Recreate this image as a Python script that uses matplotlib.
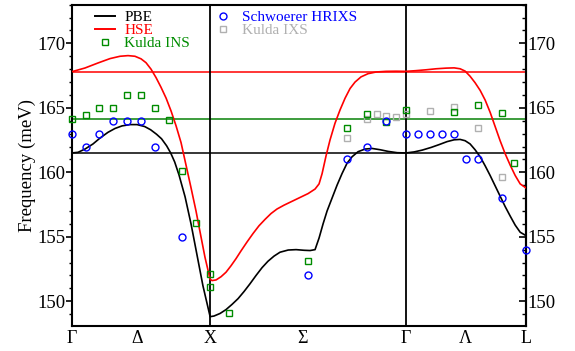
import matplotlib
matplotlib.use("Agg")
import matplotlib.pyplot as plt
from matplotlib.ticker import FixedLocator, MultipleLocator
from matplotlib.lines import Line2D

plt.rcParams["font.family"] = ["Liberation Serif", "DejaVu Serif"]

# high-symmetry points along the fcc path (units of 2*pi/a)
SYM_POS = [0.0, 1.0, 2.414, 3.280]
LABEL_POS = [0.0, 0.47, 1.0, 1.666, 2.414, 2.847, 3.280]
LABELS = ["Γ", "Δ", "X", "Σ", "Γ", "Λ", "L"]
Y_TICKS = [150, 155, 160, 165, 170]

# PBE branch
PBE_Q = [0.000, 0.046, 0.096, 0.154, 0.204, 0.262, 0.313, 0.364, 0.422, 0.472,
         0.527, 0.570, 0.613, 0.649, 0.686, 0.715, 0.744, 0.775, 0.819, 0.862,
         0.905, 0.948, 1.000,
         1.028, 1.072, 1.115, 1.158, 1.202, 1.245, 1.288, 1.332, 1.375, 1.418,
         1.462, 1.505, 1.564, 1.621, 1.679, 1.722, 1.758, 1.787, 1.816, 1.845,
         1.881, 1.917, 1.953, 1.989, 2.025, 2.069, 2.119, 2.170, 2.228, 2.286,
         2.351, 2.414,
         2.474, 2.532, 2.597, 2.655, 2.712, 2.763, 2.806, 2.842, 2.878, 2.914,
         2.951, 2.987, 3.023, 3.059, 3.095, 3.131, 3.168, 3.204, 3.240, 3.280]
PBE_E = [161.5, 161.55, 161.8, 162.2, 162.65, 163.1, 163.4, 163.6, 163.7, 163.7,
         163.55, 163.3, 162.95, 162.6, 162.05, 161.5, 160.8, 159.8, 158.1, 156.0,
         153.6, 151.2, 148.8,
         148.85, 149.05, 149.35, 149.75, 150.2, 150.75, 151.35, 152.0, 152.6, 153.1,
         153.5, 153.8, 153.97, 154.0, 153.95, 153.93, 154.0, 154.9, 156.0, 157.0,
         158.0, 159.0, 159.9, 160.7, 161.2, 161.6, 161.8, 161.85, 161.75, 161.62,
         161.52, 161.5,
         161.58, 161.72, 161.93, 162.15, 162.38, 162.52, 162.55, 162.45, 162.2, 161.75,
         161.2, 160.5, 159.75, 158.95, 158.15, 157.35, 156.6, 155.9, 155.35, 155.1]

# HSE branch
HSE_Q = [0.000, 0.096, 0.190, 0.277, 0.349, 0.407, 0.457, 0.501, 0.537, 0.573,
         0.609, 0.645, 0.682, 0.718, 0.754, 0.790, 0.826, 0.862, 0.898, 0.934,
         0.963, 1.000,
         1.014, 1.043, 1.079, 1.115, 1.151, 1.187, 1.223, 1.267, 1.310, 1.353,
         1.397, 1.440, 1.483, 1.534, 1.592, 1.650, 1.708, 1.758, 1.787, 1.809,
         1.838, 1.866, 1.902, 1.939, 1.975, 2.011, 2.047, 2.090, 2.141, 2.199,
         2.271, 2.343, 2.414,
         2.482, 2.560, 2.633, 2.705, 2.763, 2.806, 2.842, 2.878, 2.914, 2.951,
         2.987, 3.023, 3.059, 3.095, 3.131, 3.168, 3.204, 3.240, 3.280]
HSE_E = [167.8, 168.09, 168.48, 168.82, 169.0, 169.05, 169.0, 168.8, 168.5, 168.0,
         167.35, 166.6, 165.75, 164.75, 163.6, 162.3, 160.55, 158.8, 157.0, 155.0,
         153.4, 151.7,
         151.6, 151.65, 151.9, 152.25, 152.75, 153.3, 153.9, 154.6, 155.25, 155.85,
         156.35, 156.8, 157.15, 157.45, 157.75, 158.05, 158.35, 158.7, 159.1, 159.9,
         161.3, 162.5, 163.8, 164.85, 165.75, 166.5, 167.0, 167.4, 167.65, 167.78,
         167.83, 167.84, 167.83,
         167.88, 167.95, 168.03, 168.08, 168.1, 168.03, 167.85, 167.45, 166.95, 166.35,
         165.6, 164.65, 163.55, 162.45, 161.45, 160.55, 159.75, 159.1, 158.8]

# Schwoerer HRIXS
HRIXS_Q = [0.0, 0.1, 0.2, 0.3, 0.4, 0.5, 0.6, 0.8, 1.707, 1.990, 2.131, 2.273,
           2.414, 2.501, 2.587, 2.674, 2.760, 2.847, 2.934, 3.107, 3.280]
HRIXS_E = [163, 162, 163, 164, 164, 164, 162, 155, 152, 161, 162, 164,
           163, 163, 163, 163, 163, 161, 161, 158, 154]

# Kulda INS
INS_Q = [0.0, 0.1, 0.2, 0.3, 0.4, 0.5, 0.6, 0.7, 0.8, 0.9, 1.0, 1.0, 1.137,
         1.707, 1.990, 2.131, 2.273, 2.414, 2.760, 2.934, 3.107, 3.193]
INS_E = [164.1, 164.45, 165, 165, 166, 166, 165, 164.05, 160.1, 156.1, 152.1, 151.1,
         149.1, 153.1, 163.45, 164.5, 163.9, 164.8, 164.7, 165.25, 164.6, 160.7]

# Kulda IXS
IXS_Q = [1.990, 2.131, 2.202, 2.273, 2.343, 2.414, 2.587, 2.760, 2.934, 3.107]
IXS_E = [162.65, 164.15, 164.5, 164.4, 164.3, 164.5, 164.75, 165.05, 163.45, 159.65]

BLUE = "#0000ff"
RED = "#ff0000"
GREEN = "#008c00"
GREEN_LINE = "#3c9c3c"
GRAY = "#b0b0b0"

fig = plt.figure(figsize=(5.75, 3.51), dpi=100)
ax = fig.add_axes([0.1247, 0.0721, 0.7896, 0.9145])

# reference levels at Gamma
ax.axhline(PBE_E[0], color="black", lw=1.1, zorder=1)
ax.axhline(HSE_E[0], color=RED, lw=1.1, zorder=1)
ax.axhline(INS_E[0], color=GREEN_LINE, lw=1.4, zorder=1)
for xv in SYM_POS[1:3]:
    ax.axvline(xv, color="black", lw=1.3, zorder=1)

ax.plot(PBE_Q, PBE_E, color="black", lw=1.2, zorder=3)
ax.plot(HSE_Q, HSE_E, color=RED, lw=1.2, zorder=3)

ms_kw = dict(ls="none", mfc="none", mew=1.0, clip_on=False, zorder=4)
ax.plot(IXS_Q, IXS_E, marker="s", ms=4.2, mec=GRAY, **ms_kw)
ax.plot(INS_Q, INS_E, marker="s", ms=4.2, mec=GREEN, **ms_kw)
ax.plot(HRIXS_Q, HRIXS_E, marker="o", ms=5.0, mec=BLUE, **ms_kw)

ax.set_xlim(SYM_POS[0], SYM_POS[-1])
ax.set_ylim(148.1, 173.0)
ax.set_xticks(LABEL_POS)
ax.set_xticklabels(LABELS, fontsize=13)
ax.tick_params(axis="x", length=0, pad=3)

# left axis: ticks pointing out
ax.yaxis.set_major_locator(FixedLocator(Y_TICKS))
ax.yaxis.set_minor_locator(MultipleLocator(1))
ax.tick_params(axis="y", which="major", direction="out", length=4, width=1.2,
               labelsize=13.5, pad=0.5)
ax.tick_params(axis="y", which="minor", direction="out", length=2.5, width=1.0)
ax.set_ylabel("Frequency (meV)", fontsize=13.5, labelpad=1)

# right axis: same ticks, pointing into the frame
sec = ax.secondary_yaxis("right")
sec.yaxis.set_major_locator(FixedLocator(Y_TICKS))
sec.yaxis.set_minor_locator(MultipleLocator(1))
sec.tick_params(axis="y", which="major", direction="in", length=5, width=1.2,
                labelsize=13.5, pad=1.5)
sec.tick_params(axis="y", which="minor", direction="in", length=3, width=1.0)
sec.spines["right"].set_linewidth(1.5)

for sp in ax.spines.values():
    sp.set_linewidth(1.5)

h1 = [Line2D([], [], color="black", lw=1.4),
      Line2D([], [], color=RED, lw=1.4),
      Line2D([], [], marker="s", ls="none", ms=4.2, mfc="none", mec=GREEN, mew=1.0)]
leg1 = ax.legend(h1, ["PBE", "HSE", "Kulda INS"], loc="upper left",
                 bbox_to_anchor=(0.022, 1.024), frameon=False, fontsize=11,
                 handlelength=1.3, handletextpad=0.6, labelspacing=-0.05)
for t, c in zip(leg1.get_texts(), ["black", RED, GREEN]):
    t.set_color(c)
ax.add_artist(leg1)

h2 = [Line2D([], [], marker="o", ls="none", ms=5.0, mfc="none", mec=BLUE, mew=1.0),
      Line2D([], [], marker="s", ls="none", ms=4.2, mfc="none", mec=GRAY, mew=1.0)]
leg2 = ax.legend(h2, ["Schwoerer HRIXS", "Kulda IXS"], loc="upper left",
                 bbox_to_anchor=(0.281, 1.024), frameon=False, fontsize=11,
                 handlelength=1.3, handletextpad=0.6, labelspacing=-0.05)
for t, c in zip(leg2.get_texts(), [BLUE, GRAY]):
    t.set_color(c)

fig.savefig("out.png", dpi=100)
